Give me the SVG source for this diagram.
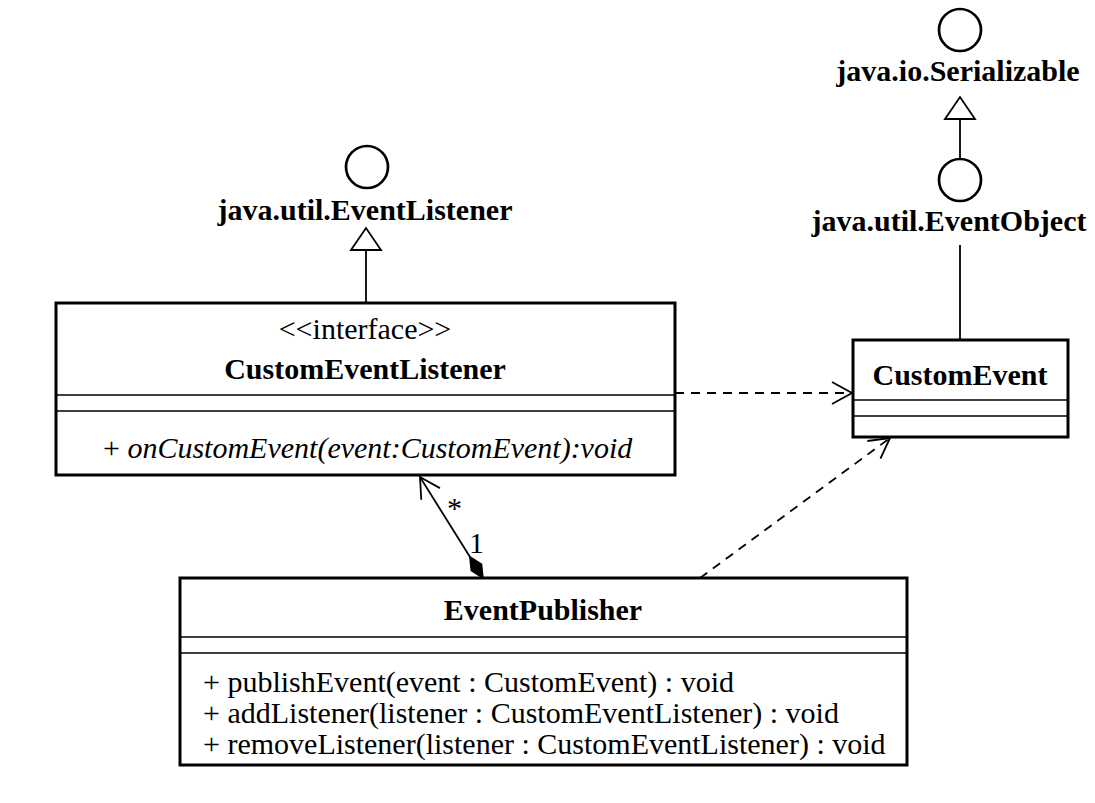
<svg xmlns="http://www.w3.org/2000/svg" width="1095" height="803" viewBox="0 0 1095 803">
<style>
.box{fill:#fff;stroke:#000;stroke-width:3}
.div{stroke:#000;stroke-width:1.5}
.t{font-family:"Liberation Serif","Times New Roman",serif;font-size:30px;fill:#000}
.b{font-weight:bold}
.i{font-style:italic}
.c{text-anchor:middle}
.ln{stroke:#000;stroke-width:1.8;fill:none}
.dash{stroke-dasharray:9,7}
.circ{fill:#fff;stroke:#000;stroke-width:2.7}
</style>
<defs>
<marker id="open" markerUnits="userSpaceOnUse" viewBox="-24 -13 26 26" markerWidth="26" markerHeight="26" refX="0" refY="0" orient="auto">
<path d="M-20,-11 L0,0 L-20,11" fill="none" stroke="#000" stroke-width="1.8"/>
</marker>
<marker id="tri" markerUnits="userSpaceOnUse" viewBox="-25 -17 27 34" markerWidth="27" markerHeight="34" refX="0" refY="0" orient="auto">
<path d="M-22,-15 L0,0 L-22,15 Z" fill="#fff" stroke="#000" stroke-width="1.8"/>
</marker>
</defs>

<g id="java-util-EventListener">
<circle class="circ" cx="367" cy="167" r="21"/>
<text class="t b c" x="365" y="220">java.util.EventListener</text>
</g>

<g id="java-io-Serializable">
<circle class="circ" cx="960" cy="30" r="21"/>
<text class="t b c" x="958" y="81">java.io.Serializable</text>
</g>

<g id="java-util-EventObject">
<circle class="circ" cx="960" cy="180" r="21"/>
<text class="t b c" x="949" y="231">java.util.EventObject</text>
</g>

<g id="CustomEventListener">
<rect class="box" x="56" y="303" width="619" height="172"/>
<text class="t c" x="365" y="339">&lt;&lt;interface&gt;&gt;</text>
<text class="t b c" x="365" y="379">CustomEventListener</text>
<line class="div" x1="56" y1="395" x2="675" y2="395"/>
<line class="div" x1="56" y1="411" x2="675" y2="411"/>
<text class="t" x="103" y="458">+ <tspan class="i">onCustomEvent(event:CustomEvent):void</tspan></text>
</g>

<g id="CustomEvent">
<rect class="box" x="853" y="340" width="215" height="97"/>
<text class="t b c" x="960" y="385">CustomEvent</text>
<line class="div" x1="853" y1="400" x2="1068" y2="400"/>
<line class="div" x1="853" y1="416" x2="1068" y2="416"/>
</g>

<g id="EventPublisher">
<rect class="box" x="180" y="578" width="727" height="187"/>
<text class="t b c" x="543" y="620">EventPublisher</text>
<line class="div" x1="180" y1="637" x2="907" y2="637"/>
<line class="div" x1="180" y1="653" x2="907" y2="653"/>
<text class="t" x="203" y="692">+ publishEvent(event : CustomEvent) : void</text>
<text class="t" x="203" y="723">+ addListener(listener : CustomEventListener) : void</text>
<text class="t" x="203" y="754">+ removeListener(listener : CustomEventListener) : void</text>
</g>

<g id="connectors">
<line class="ln" x1="366" y1="303" x2="366" y2="228" marker-end="url(#tri)"/>
<line class="ln" x1="960" y1="159" x2="960" y2="97" marker-end="url(#tri)"/>
<line class="ln" x1="960" y1="245" x2="960" y2="340"/>
<line class="ln dash" x1="675" y1="393" x2="852" y2="393" marker-end="url(#open)"/>
<line class="ln dash" x1="700" y1="578" x2="890" y2="438" marker-end="url(#open)"/>
<polygon points="483,578 481.5,564.2 469.8,556.8 471.3,570.6" fill="#000" stroke="#000" stroke-width="1.5"/>
<line class="ln" x1="470" y1="557" x2="420" y2="477" marker-end="url(#open)"/>
<text class="t" x="447" y="518" font-size="26">*</text>
<text class="t" x="469" y="553">1</text>
</g>
</svg>
